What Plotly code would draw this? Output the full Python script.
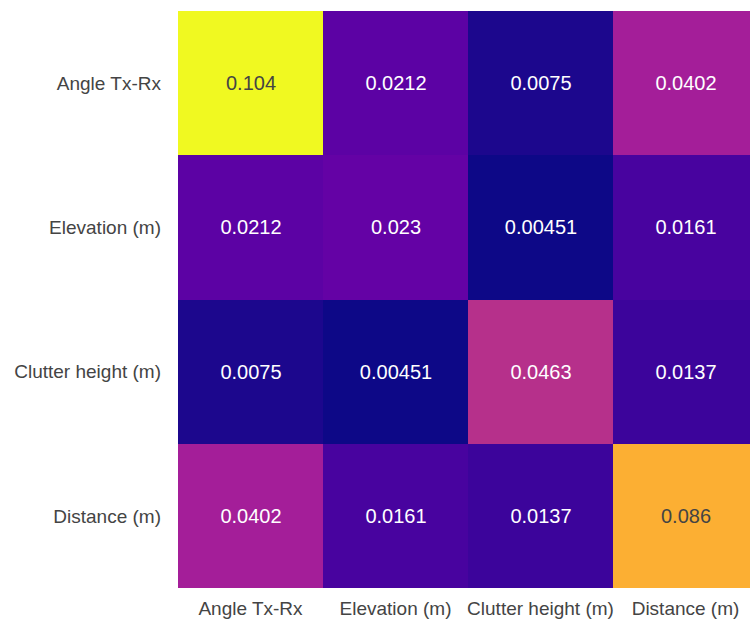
import plotly.graph_objects as go

# Covariance matrix of the propagation features
features = ["Angle Tx-Rx", "Elevation (m)", "Clutter height (m)", "Distance (m)"]
row_angle = [0.104, 0.0212, 0.0075, 0.0402]
row_elevation = [0.0212, 0.023, 0.00451, 0.0161]
row_clutter = [0.0075, 0.00451, 0.0463, 0.0137]
row_distance = [0.0402, 0.0161, 0.0137, 0.086]

cov = [row_angle, row_elevation, row_clutter, row_distance]

fig = go.Figure(
    go.Heatmap(
        z=cov,
        x=features,
        y=features,
        colorscale="Plasma",
        showscale=False,
        texttemplate="%{z:~.3g}",
        textfont=dict(size=20, family="Liberation Sans, Arial, sans-serif"),
        hoverongaps=False,
    )
)

fig.update_layout(
    width=760,
    height=620,
    margin=dict(l=178, r=2, t=11, b=32, autoexpand=False),
    paper_bgcolor="white",
    plot_bgcolor="white",
    font=dict(family="Liberation Sans, Arial, sans-serif", size=19, color="#444"),
)
fig.update_xaxes(showgrid=False, zeroline=False, ticks="", ticklabelstandoff=7,
                 automargin=False)
fig.update_yaxes(showgrid=False, zeroline=False, ticks="", autorange="reversed",
                 ticklabelstandoff=16, automargin=False)

fig.write_html("out.html")
